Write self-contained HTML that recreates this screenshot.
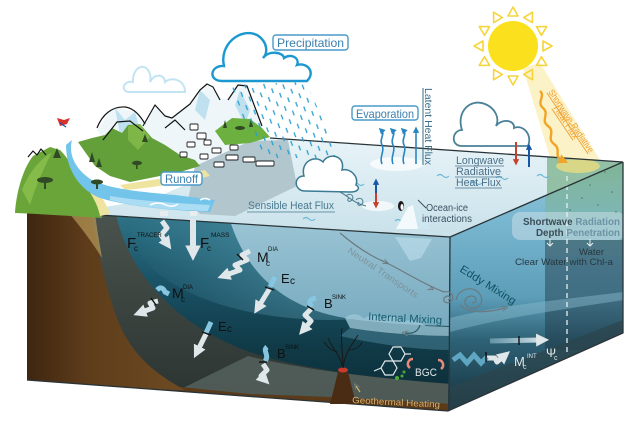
<!DOCTYPE html>
<html><head><meta charset="utf-8">
<style>
html,body{margin:0;padding:0;background:#fff;width:640px;height:421px;overflow:hidden}
svg{display:block}
text{font-family:"Liberation Sans",sans-serif}
</style></head>
<body>
<svg width="640" height="421" viewBox="0 0 640 421" xmlns="http://www.w3.org/2000/svg">
<defs>
  <linearGradient id="topG" x1="0" y1="138" x2="0" y2="237" gradientUnits="userSpaceOnUse">
    <stop offset="0" stop-color="#e8f4f8"/><stop offset="1" stop-color="#c9e1ea"/>
  </linearGradient>
  <linearGradient id="frontG" x1="0" y1="212" x2="0" y2="405" gradientUnits="userSpaceOnUse">
    <stop offset="0" stop-color="#2f7488"/><stop offset=".35" stop-color="#1a5367"/>
    <stop offset=".7" stop-color="#103a47"/><stop offset="1" stop-color="#0b2b36"/>
  </linearGradient>
  <linearGradient id="lightG" x1="0" y1="214" x2="0" y2="328" gradientUnits="userSpaceOnUse">
    <stop offset="0" stop-color="#9cc6d6"/><stop offset=".6" stop-color="#86b5c8"/><stop offset="1" stop-color="#78aabf"/>
  </linearGradient>
  <linearGradient id="rightG" x1="0" y1="160" x2="0" y2="410" gradientUnits="userSpaceOnUse">
    <stop offset="0" stop-color="#90c9de"/><stop offset=".3" stop-color="#74b2cc"/>
    <stop offset=".55" stop-color="#5c9db8"/><stop offset=".72" stop-color="#2e6276"/><stop offset="1" stop-color="#16323e"/>
  </linearGradient>
  <linearGradient id="soilG" x1="27" y1="0" x2="180" y2="0" gradientUnits="userSpaceOnUse">
    <stop offset="0" stop-color="#3e2610"/><stop offset=".4" stop-color="#5e3d1b"/><stop offset="1" stop-color="#6c4a22"/>
  </linearGradient>
  <linearGradient id="shelfG" x1="0" y1="212" x2="0" y2="400" gradientUnits="userSpaceOnUse">
    <stop offset="0" stop-color="#4a534d"/><stop offset="1" stop-color="#2b3431"/>
  </linearGradient>
  <linearGradient id="greenG" x1="0" y1="160" x2="0" y2="265" gradientUnits="userSpaceOnUse">
    <stop offset="0" stop-color="#7db290" stop-opacity=".95"/><stop offset="1" stop-color="#7db290" stop-opacity="0"/>
  </linearGradient>
  <radialGradient id="rg1" cx="330" cy="225" r="200" gradientUnits="userSpaceOnUse">
    <stop offset="0" stop-color="#5a9db2" stop-opacity=".7"/><stop offset="1" stop-color="#5a9db2" stop-opacity="0"/>
  </radialGradient>
  <linearGradient id="barG" x1="490" y1="0" x2="550" y2="0" gradientUnits="userSpaceOnUse">
    <stop offset="0" stop-color="#9cc6d6" stop-opacity=".5"/><stop offset="1" stop-color="#eef4f5"/>
  </linearGradient>
  <pattern id="rain" width="12" height="14" patternUnits="userSpaceOnUse" patternTransform="rotate(-20)">
    <line x1="3" y1="1" x2="3" y2="6" stroke="#2a9fd0" stroke-width="1.3"/>
    <line x1="9" y1="8" x2="9" y2="13" stroke="#2a9fd0" stroke-width="1.3"/>
  </pattern>
  <marker id="mW" viewBox="0 0 10 10" refX="3" refY="5" markerWidth="2.6" markerHeight="2.6" orient="auto"><path d="M0,0 L10,5 L0,10 Z" fill="#dfe7ea"/></marker>
  <marker id="mE" viewBox="0 0 10 10" refX="3" refY="5" markerWidth="4" markerHeight="4" orient="auto"><path d="M0,0 L10,5 L0,10 Z" fill="#2a86c0"/></marker>
  <marker id="mB" viewBox="0 0 10 10" refX="3" refY="5" markerWidth="3.2" markerHeight="3.2" orient="auto"><path d="M0,0 L10,5 L0,10 Z" fill="#1a56a6"/></marker>
  <marker id="mR" viewBox="0 0 10 10" refX="3" refY="5" markerWidth="3.2" markerHeight="3.2" orient="auto"><path d="M0,0 L10,5 L0,10 Z" fill="#c8402a"/></marker>
  <marker id="mO" viewBox="0 0 10 10" refX="3" refY="5" markerWidth="4" markerHeight="4" orient="auto"><path d="M0,0 L10,5 L0,10 Z" fill="#f2a428"/></marker>
  <marker id="mG" viewBox="0 0 10 10" refX="5" refY="5" markerWidth="5" markerHeight="5" orient="auto"><path d="M0,1 L10,5 L0,9" fill="none" stroke="#6c7a80" stroke-width="1.5"/></marker>
  <clipPath id="cf"><polygon points="27,210 450,237 450,411 27,380"/></clipPath>
  <clipPath id="cr"><polygon points="450,237 623,162 623,333 448,411"/></clipPath>
</defs>

<!-- SUN -->
<polygon points="523,68 540,63 600,160 553,168" fill="#fbedb4" opacity=".75"/>
<circle cx="513" cy="46" r="25" fill="#fbe01e"/>
<g transform="translate(513,46)" fill="none" stroke="#f6d43a" stroke-width="1.6" stroke-linejoin="round">
  <polygon points="-5,-30 5,-30 0,-39"/>
  <polygon points="-5,-30 5,-30 0,-39" transform="rotate(30)"/>
  <polygon points="-5,-30 5,-30 0,-39" transform="rotate(60)"/>
  <polygon points="-5,-30 5,-30 0,-39" transform="rotate(90)"/>
  <polygon points="-5,-30 5,-30 0,-39" transform="rotate(120)"/>
  <polygon points="-5,-30 5,-30 0,-39" transform="rotate(150)"/>
  <polygon points="-5,-30 5,-30 0,-39" transform="rotate(180)"/>
  <polygon points="-5,-30 5,-30 0,-39" transform="rotate(210)"/>
  <polygon points="-5,-30 5,-30 0,-39" transform="rotate(240)"/>
  <polygon points="-5,-30 5,-30 0,-39" transform="rotate(270)"/>
  <polygon points="-5,-30 5,-30 0,-39" transform="rotate(300)"/>
  <polygon points="-5,-30 5,-30 0,-39" transform="rotate(330)"/>
</g>

<!-- TOP SURFACE -->
<polygon points="83,214 450,237 623,162 270,138 255,141 235,152 210,168 185,185 150,200 110,206" fill="url(#topG)"/>
<polygon points="195,166 250,141 288,140 297,186 235,216 200,214 188,200" fill="#b2c6ce"/>
<polygon points="547,157 623,162 547,195" fill="#86b898" opacity=".85"/>
<ellipse cx="578" cy="166" rx="22" ry="7" fill="#f3e07a" opacity=".7"/>
<ellipse cx="397" cy="164" rx="27" ry="7" fill="#fff" opacity=".7"/>
<ellipse cx="378" cy="206" rx="16" ry="5" fill="#fff" opacity=".7"/>
<g fill="none" stroke="#6ab8d8" stroke-width="1.2">
  <path d="M352,184 q3,-3 6,0 q3,3 6,0"/><path d="M437,176 q3,-3 6,0 q3,3 6,0"/>
  <path d="M470,183 q3,-3 6,0 q3,3 6,0"/><path d="M537,176 q3,-3 6,0 q3,3 6,0"/>
  <path d="M303,219 q3,-3 6,0 q3,3 6,0"/><path d="M395,221 q3,-3 6,0 q3,3 6,0"/>
  <path d="M496,178 q3,-3 6,0 q3,3 6,0"/>
</g>

<!-- FRONT FACE -->
<g clip-path="url(#cf)">
  <rect x="20" y="200" width="440" height="220" fill="url(#frontG)"/>
  <ellipse cx="330" cy="225" rx="200" ry="95" fill="url(#rg1)"/>
  <path d="M228,214 C245,275 285,305 335,316 C360,322 420,326 452,326 L452,236 Z" fill="url(#lightG)"/>
  <path d="M345,318 C352,312 360,314 364,319 C370,313 378,315 382,320 C390,314 398,317 402,322 C410,318 420,322 426,326 L452,327 L452,336 C420,336 380,333 350,328 Z" fill="#9cc5d4" opacity=".8"/>
  <path d="M350,328 C380,333 420,336 452,336 L452,350 C420,350 380,345 340,336 Z" fill="#4d889e" opacity=".5"/>
  <path d="M395,237 L432,239 L421,258 L410,261 Z" fill="#c2e2ee" opacity=".55"/>
  <path d="M90,212 L116,214 C126,262 165,322 250,352 C300,369 380,379 452,384 L452,415 L27,385 Z" fill="url(#shelfG)"/>
  <path d="M175,392 L248,356 C300,369 380,379 452,384 L452,408 Z" fill="#58645f" opacity=".8"/>
  <path d="M27,380 L150,384 L250,394 L330,397 L452,404 L452,415 L27,386 Z" fill="#5a3a18"/>
  <path d="M20,208 L92,212 C96,245 104,280 114,310 C124,340 140,366 185,390 L20,386 Z" fill="url(#soilG)"/>
  <path d="M68,212 L95,213 C97,230 100,245 102,258 C92,242 80,226 68,212Z" fill="#b89858" opacity=".7"/>
</g>

<!-- RIGHT FACE -->
<g clip-path="url(#cr)">
  <rect x="445" y="155" width="185" height="260" fill="url(#rightG)"/>
  <rect x="545" y="160" width="80" height="105" fill="url(#greenG)"/>
  <rect x="545" y="240" width="80" height="110" fill="#1c3440" opacity=".45"/>
  <path d="M450,318 C500,305 560,300 623,292 L623,300 C560,310 500,318 450,332 Z" fill="#8abdd0" opacity=".45"/>
  <path d="M448,388 L623,320 L623,345 L448,411 Z" fill="#2c454b" opacity=".7"/>
  <rect x="512" y="212" width="113" height="28" rx="8" fill="#cfe2ea" opacity=".5"/>
  <g fill="#2f4c40" opacity=".6">
    <circle cx="575" cy="175" r=".8"/><circle cx="590" cy="185" r=".8"/><circle cx="605" cy="172" r=".8"/>
    <circle cx="582" cy="198" r=".8"/><circle cx="612" cy="192" r=".8"/><circle cx="598" cy="205" r=".8"/>
    <circle cx="570" cy="210" r=".8"/><circle cx="616" cy="212" r=".8"/><circle cx="560" cy="168" r=".8"/>
  </g>
</g>
<line x1="567" y1="176" x2="567" y2="356" stroke="#e6eef0" stroke-width="1.3" stroke-dasharray="5,4"/>

<!-- EDGES -->
<g fill="none" stroke="#2a3438" stroke-width="1.3">
  <line x1="270" y1="138" x2="623" y2="162"/>
  <line x1="83" y1="214" x2="450" y2="237"/>
  <line x1="450" y1="237" x2="623" y2="162"/>
  <line x1="450" y1="237" x2="449" y2="411"/>
  <polyline points="623,162 623,333 448,411 27,380"/>
</g>

<!-- LAND -->
<path d="M15,213 C16,195 22,170 33,156 L50,147 L60,150 C68,158 75,170 82,180 C88,188 95,195 100,205 L102,218 C70,216 40,214 15,213 Z" fill="#6aa53a"/>
<path d="M22,190 C30,170 40,160 52,152 C44,168 36,185 30,205 Z" fill="#8cc04e" opacity=".8"/>
<path d="M85,185 C92,195 98,205 100,216 L110,214 C105,200 97,190 90,182 Z" fill="#efe3a0"/>
<path d="M195,166 L250,141 L262,127 L248,86 L240,83 L228,99 L220,98 L207,84 L190,104 L170,118 L155,105 L145,124 L137,112 L113,107 L97,130 L110,150 L150,160 Z" fill="#eef6fa"/>
<path d="M115,108 L125,120 L135,112 L140,130 L120,135 Z M200,90 L210,100 L205,120 L195,110 Z M240,90 L250,110 L245,125 L235,105Z" fill="#bfe0ee"/>
<path d="M78,142 L92,138 L105,135 L112,128 L122,133 L128,125 L140,124 L152,138 L165,145 L180,155 L195,160 L200,166 L180,172 L150,178 L130,182 L110,176 L95,166 Z" fill="#64a03a"/>
<path d="M128,126 L140,124 L150,137 L138,150 L128,140 Z" fill="#86bb4c" opacity=".8"/>
<path d="M215,131 L232,118 L250,119 L262,128 L270,137 L250,143 L225,145 Z" fill="#6cb040"/>
<path d="M120,185 C150,180 180,176 205,170 L210,176 C180,183 150,188 125,190 Z" fill="#efe3a0"/>
<path d="M72,140 C68,155 76,170 92,180 C112,190 145,192 175,195 L215,200 L210,212 C170,210 130,207 100,198 C80,190 66,170 66,145 Z" fill="#72c4ea"/>
<path d="M110,196 C140,201 175,203 210,205 L208,211 C170,210 135,207 110,200Z" fill="#b8e4f6" opacity=".8"/>
<path d="M150,205 q8,-4 16,0 q6,3 12,-1" fill="none" stroke="#fff" stroke-width="1.5"/>
<path d="M200,200 q5,-3 10,0" fill="none" stroke="#fff" stroke-width="1.5"/>
<!-- trees -->
<g fill="#2f4a24">
  <ellipse cx="45" cy="180" rx="8" ry="3"/><rect x="44" y="180" width="2" height="9"/>
  <ellipse cx="97" cy="182" rx="6" ry="2.5"/><rect x="96" y="182" width="2" height="7"/>
  <ellipse cx="137" cy="163" rx="5" ry="2.2"/><rect x="136" y="163" width="1.6" height="6"/>
  <ellipse cx="240" cy="128" rx="5" ry="2"/>
  <polygon points="57,148 53,158 61,158"/><polygon points="92,152 89,162 95,162"/>
  <polygon points="99,158 96,167 102,167"/><polygon points="145,134 142,142 148,142"/>
  <polygon points="225,120 223,128 227,128"/><polygon points="251,118 249,127 253,127"/>
</g>
<!-- mountain outlines -->
<g fill="none" stroke="#141414" stroke-width="1.2" stroke-linejoin="round">
  <path d="M97,128 C102,115 112,106 125,107 C133,108 140,115 145,124"/>
  <path d="M103,140 L117,122 L130,121 L143,131"/>
  <path d="M143,126 L155,105 L165,116 L172,118 L190,104 L200,90 L207,84 L213,87 L220,100"/>
  <path d="M228,100 L238,85 L247,86 L256,110 L262,126"/>
  <path d="M165,128 L175,120 L185,130"/>
  <path d="M28,157 L33,151 L37,155 L41,149 L46,155"/>
</g>
<!-- ice blocks -->
<g fill="#fff" stroke="#1e1e1e" stroke-width=".9">
  <rect x="190" y="124" width="8" height="6" rx="1"/><rect x="197" y="133" width="9" height="6" rx="1"/>
  <rect x="187" y="142" width="8" height="5" rx="1"/><rect x="204" y="140" width="7" height="5" rx="1"/>
  <rect x="212" y="148" width="9" height="5" rx="1"/><rect x="226" y="155" width="12" height="5" rx="1"/>
  <rect x="243" y="157" width="12" height="5" rx="1"/><rect x="256" y="161" width="18" height="5" rx="1"/>
  <rect x="214" y="162" width="10" height="5" rx="1"/><rect x="200" y="154" width="8" height="5" rx="1"/>
  <rect x="230" y="145" width="8" height="5" rx="1"/><rect x="180" y="152" width="7" height="5" rx="1"/>
</g>
<!-- bird -->
<path d="M57,118 L64,120 L70,118 L67,124 L60,126 Z" fill="#d8302a"/>
<path d="M60,123 L66,127" stroke="#2a50a0" stroke-width="1.2"/>

<!-- CLOUDS -->
<path d="M128,92 C120,90 124,80 133,82 C132,70 142,62 148,70 C152,76 150,80 150,82 C155,72 165,75 165,82 C172,76 185,80 185,92 Z" fill="none" stroke="#c2e4f2" stroke-width="2"/>
<polygon points="228,85 306,82 340,158 262,158" fill="url(#rain)"/>
<path d="M222,81 C208,81 210,65 224,66 C219,45 240,27 257,35 C268,42 268,53 263,58 C269,50 283,52 284,58 C291,53 300,58 297,65 C307,62 316,72 307,81 Z" fill="#fff" stroke="#1b98cf" stroke-width="2.4"/>
<path d="M462,146 C450,146 452,130 462,130 C456,112 470,98 485,104 C495,108 500,118 496,126 C502,118 515,120 514,128 C522,124 533,134 528,146 Z" fill="#fff" stroke="#4a8098" stroke-width="1.8"/>
<path d="M305,191 C294,191 293,176 304,176 C300,162 315,154 323,162 C328,152 346,155 342,170 C350,168 359,176 356,185 C361,188 358,192 350,192 Z" fill="#fff" stroke="#3a7a92" stroke-width="1.5"/>
<g fill="none" stroke="#4a7a8c" stroke-width="1">
  <path d="M346,196 c4,-4 9,0 6,4 c-3,3 -6,0 -3,-2"/><path d="M356,200 c4,-4 9,0 6,4 c-3,3 -6,0 -3,-2"/>
  <path d="M340,192 C348,196 355,204 366,206"/>
</g>

<!-- FLUX ARROWS TOP -->
<g fill="none" stroke="#2a86c0" stroke-width="1.6">
  <path d="M382,164 C379,157 385,151 382,145 C379,139 385,134 382,131" marker-end="url(#mE)"/>
  <path d="M393,164 C390,157 396,151 393,145 C390,139 396,134 393,131" marker-end="url(#mE)"/>
  <path d="M404,164 C401,157 407,151 404,145 C401,139 407,134 404,131" marker-end="url(#mE)"/>
  <path d="M416,164 L416,131" marker-end="url(#mE)"/>
</g>
<line x1="423" y1="88" x2="423" y2="165" stroke="#3a6e88" stroke-width="1"/>
<line x1="516" y1="142" x2="516" y2="161" stroke="#c8402a" stroke-width="2" marker-end="url(#mR)"/>
<line x1="529" y1="167" x2="529" y2="148" stroke="#1a56a6" stroke-width="2" marker-end="url(#mB)"/>
<line x1="376" y1="193" x2="376" y2="183" stroke="#1a56a6" stroke-width="2" marker-end="url(#mB)"/>
<line x1="376" y1="193" x2="376" y2="204" stroke="#c8402a" stroke-width="2" marker-end="url(#mR)"/>
<path d="M540,91 C546,96 536,102 543,108 C550,114 540,120 548,126 C556,132 546,138 554,144 C562,150 553,156 562,160" fill="none" stroke="#f2a428" stroke-width="2.4" marker-end="url(#mO)"/>

<!-- iceberg & penguin -->
<path d="M396,229 L408,207 L413,205 L419,212 L430,229 Z" fill="#f4fafc"/>
<path d="M413,205 L419,212 L430,229 L418,229 Z" fill="#cde6f0"/>
<ellipse cx="401" cy="206" rx="3" ry="5" fill="#1a1a1a"/>
<ellipse cx="402" cy="207" rx="1.5" ry="3" fill="#fff"/>
<line x1="418" y1="200" x2="426" y2="208" stroke="#3a5060" stroke-width="1"/>

<!-- white marks at surface -->
<path d="M160,211 L168,211 L168,216 L160,216 Z" fill="#e8eef0"/>
<rect x="190" y="211" width="7" height="5" fill="#e8eef0"/>

<!-- FRONT ARROWS -->
<g fill="none" stroke="#dfe7ea" stroke-width="5" stroke-linejoin="round">
  <path d="M162,221 L167,228 L161,235 L166,242" marker-end="url(#mW)"/>
  <path d="M193,219 L193,250" stroke-width="6" marker-end="url(#mW)"/>
  <path d="M250,251 L242,255 L247,260 L235,265 L240,270 L226,275" marker-end="url(#mW)"/>
  <path d="M270,288 L259,306" marker-end="url(#mW)"/>
  <path d="M158,301 L150,303 L153,308 L142,312" marker-end="url(#mW)"/>
  <path d="M206,334 L198,350" marker-end="url(#mW)"/>
  <path d="M263,364 L267,370 L261,376 L263,378" marker-end="url(#mW)"/>
  <path d="M311,309 L305,315 L311,321 L305,328" marker-end="url(#mW)"/>
  <path d="M487,358 L495,358 L497,362 L503,357" marker-end="url(#mW)"/>
</g>
<path d="M490,341 L540,340" stroke="url(#barG)" stroke-width="5" fill="none" marker-end="url(#mW)"/>
<g fill="none" stroke="#86c6e0" stroke-width="5">
  <path d="M275,277 L270,287"/>
  <path d="M211,322 L206,333"/>
  <path d="M157,290 Q162,285 165,292 L169,294"/>
  <path d="M267,347 C262,351 270,355 265,361"/>
  <path d="M316,298 Q306,300 312,307"/>
</g>
<path d="M453,360 L460,355 L467,363 L474,355 L481,363 L487,357" fill="none" stroke="#5ea6c2" stroke-width="5"/>
<g stroke="#111" stroke-width="1.4">
  <line x1="237" y1="254" x2="243" y2="260"/><line x1="265" y1="287" x2="274" y2="290"/>
  <line x1="202" y1="332" x2="211" y2="335"/><line x1="151" y1="298" x2="156" y2="305"/>
  <line x1="259" y1="362" x2="267" y2="362"/><line x1="307" y1="306" x2="314" y2="310"/>
  <line x1="519" y1="336" x2="519" y2="345"/><line x1="486" y1="352" x2="486" y2="362"/>
</g>

<!-- Neutral transport line & eddies -->
<g fill="none" stroke="#6c7a80" stroke-width="1.2">
  <path d="M340,233 C360,250 375,258 385,262 C405,272 425,285 444,292"/>
  <path d="M385,262 L386,262.5" marker-end="url(#mG)"/>
  <path d="M430,288 L431,288.5" marker-end="url(#mG)"/>
  <path d="M444,292 C452,290 456,298 450,302 C444,305 441,298 447,296 C451,296 450,300 448,300"/>
  <path d="M456,300 C458,290 470,285 478,292 C486,300 480,310 470,308 C462,305 464,296 472,296 C478,297 477,303 472,303"/>
  <path d="M460,305 C470,315 490,312 505,308" marker-end="url(#mG)"/>
</g>
<path d="M420,325 C418,332 412,334 405,333" fill="none" stroke="#2a5a6a" stroke-width="1.3" marker-end="url(#mG)"/>

<!-- volcano -->
<path d="M330,404 L338,372 L348,372 L356,404 Z" fill="#4a2c14"/>
<ellipse cx="343" cy="370" rx="5" ry="2.5" fill="#c83a2a"/>
<g stroke="#1a1410" stroke-width="1" fill="none" opacity=".85">
  <path d="M343,368 C340,355 332,348 328,338"/><path d="M343,368 C345,352 352,345 358,335"/>
  <path d="M343,368 C343,350 340,340 342,328"/><path d="M337,352 C330,350 326,345 324,342"/>
  <path d="M348,350 C355,350 360,347 362,342"/>
</g>
<path d="M360,392 L356,386" stroke="#d8b070" stroke-width="1.2" marker-end="url(#mG)"/>

<!-- BGC -->
<g fill="none" stroke="#e2eaec" stroke-width="1.2">
  <polygon points="393,347 401,347 405,354 401,361 393,361 389,354"/>
  <polygon points="385,361 393,361 397,368 393,375 385,375 381,368"/>
  <line x1="405" y1="354" x2="411" y2="354"/><line x1="381" y1="368" x2="374" y2="371"/>
</g>
<path d="M410,368 c-4,-3 -2,-9 3,-9" fill="none" stroke="#e88a7a" stroke-width="2.5"/>
<path d="M441,369 c4,-3 2,-9 -3,-9" fill="none" stroke="#e88a7a" stroke-width="2.5"/>
<g fill="#4caa3a"><circle cx="397" cy="378" r="2"/><circle cx="402" cy="376" r="1.5"/><circle cx="404" cy="372" r="1.5"/></g>

<!-- LABELS -->
<g fill="#fff" stroke="#4a9ac8" stroke-width="1.4">
  <rect x="273" y="35" width="75" height="15" rx="3"/>
  <rect x="352" y="106" width="66" height="14" rx="3"/>
  <rect x="161" y="172" width="41" height="13" rx="3"/>
</g>
<g fill="#3a7fae" font-size="12">
  <text x="277" y="47" textLength="67" lengthAdjust="spacingAndGlyphs">Precipitation</text>
  <text x="356" y="118" textLength="58" lengthAdjust="spacingAndGlyphs">Evaporation</text>
  <text x="165" y="183" textLength="33" lengthAdjust="spacingAndGlyphs">Runoff</text>
</g>
<text x="248" y="209" font-size="11" fill="#4a7a90" textLength="86" lengthAdjust="spacingAndGlyphs">Sensible Heat Flux</text>
<line x1="247" y1="212" x2="335" y2="212" stroke="#4a7a90" stroke-width=".8"/>
<g fill="#4a7088" font-size="11">
  <text x="456" y="164" textLength="48" lengthAdjust="spacingAndGlyphs">Longwave</text>
  <text x="456" y="175" textLength="45" lengthAdjust="spacingAndGlyphs">Radiative</text>
  <text x="456" y="186" textLength="45" lengthAdjust="spacingAndGlyphs">Heat Flux</text>
</g>
<g stroke="#4a7088" stroke-width=".7">
  <line x1="455" y1="166" x2="504" y2="166"/><line x1="455" y1="177" x2="502" y2="177"/><line x1="455" y1="188" x2="502" y2="188"/>
</g>
<text transform="translate(425,88) rotate(90)" font-size="10" fill="#3a6e88" textLength="77" lengthAdjust="spacingAndGlyphs">Latent Heat Flux</text>
<text transform="translate(548,92) rotate(56)" font-size="9" fill="#f0a030" textLength="74" lengthAdjust="spacingAndGlyphs" text-decoration="underline">Shortwave Radiative</text>
<text transform="translate(553,108) rotate(56)" font-size="9" fill="#f0a030" textLength="38" lengthAdjust="spacingAndGlyphs" text-decoration="underline">Heat Flux</text>
<g fill="#3a5262" font-size="10">
  <text x="426" y="211" textLength="42" lengthAdjust="spacingAndGlyphs">Ocean-ice</text>
  <text x="422" y="222" textLength="50" lengthAdjust="spacingAndGlyphs">interactions</text>
</g>
<text transform="translate(347,252) rotate(34)" font-size="9" fill="#7d939c" textLength="83" lengthAdjust="spacingAndGlyphs">Neutral Transports</text>
<text transform="translate(459,271) rotate(32)" font-size="11" fill="#0e5264" textLength="64" lengthAdjust="spacingAndGlyphs">Eddy Mixing</text>
<text transform="translate(368,320) rotate(3)" font-size="11" fill="#155e70" textLength="74" lengthAdjust="spacingAndGlyphs">Internal Mixing</text>
<text transform="translate(352,403) rotate(3)" font-size="9" fill="#d8b070" textLength="88" lengthAdjust="spacingAndGlyphs">Geothermal Heating</text>
<text x="523" y="225" font-size="10" font-weight="bold" textLength="97" lengthAdjust="spacingAndGlyphs"><tspan fill="#3a4c56">Shortwave </tspan><tspan fill="#6c94a4">Radiation</tspan></text>
<text x="536" y="236" font-size="10" font-weight="bold" textLength="84" lengthAdjust="spacingAndGlyphs"><tspan fill="#3a4c56">Depth </tspan><tspan fill="#6c94a4">Penetration</tspan></text>
<g stroke="#e8f0f2" stroke-width="1" fill="none">
  <path d="M550,239 L550,246 M547,243 L550,246 L553,243"/>
  <path d="M590,239 L590,246 M587,243 L590,246 L593,243"/>
</g>
<g fill="#263840" font-size="9.5">
  <text x="579" y="255" textLength="25" lengthAdjust="spacingAndGlyphs">Water</text>
  <text x="515" y="265" textLength="98" lengthAdjust="spacingAndGlyphs">Clear Water with Chl-a</text>
</g>

<!-- math labels -->
<g fill="#111">
  <text x="127" y="248" font-size="15">F</text><text x="134" y="251" font-size="8">c</text><text x="137" y="237" font-size="6">TRACER</text>
  <text x="200" y="248" font-size="15">F</text><text x="207" y="251" font-size="8">c</text><text x="211" y="237" font-size="6.5">MASS</text>
  <text x="257" y="262" font-size="14">M</text><text x="266" y="266" font-size="8">c</text><text x="268" y="251" font-size="6">DIA</text>
  <text x="281" y="283" font-size="13">E</text><text x="290" y="284" font-size="10">c</text>
  <text x="172" y="298" font-size="14">M</text><text x="181" y="302" font-size="8">c</text><text x="183" y="289" font-size="6">DIA</text>
  <text x="218" y="331" font-size="13">E</text><text x="227" y="332" font-size="10">c</text>
  <text x="277" y="358" font-size="13">B</text><text x="285" y="349" font-size="6">SINK</text>
  <text x="324" y="308" font-size="13">B</text><text x="332" y="299" font-size="6">SINK</text>
</g>
<g fill="#dfe7ea">
  <text x="514" y="366" font-size="13">M</text><text x="523" y="369" font-size="7">c</text><text x="527" y="358" font-size="6">INT</text>
  <text x="546" y="357" font-size="12">Ψ</text><text x="554" y="360" font-size="7">c</text>
  <text x="415" y="376" font-size="11" textLength="22" lengthAdjust="spacingAndGlyphs">BGC</text>
</g>
</svg>
</body></html>
